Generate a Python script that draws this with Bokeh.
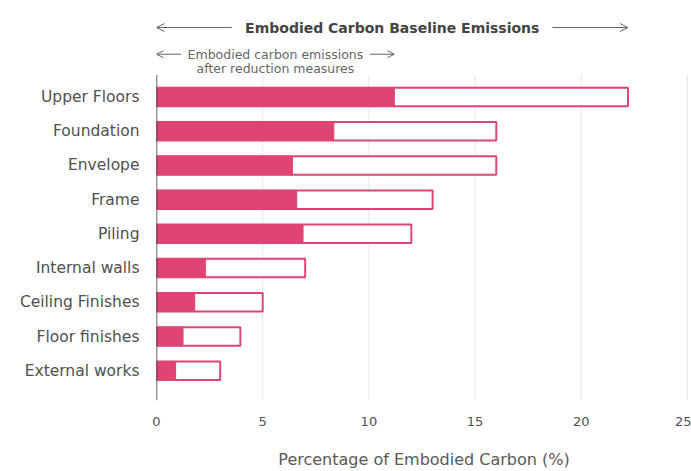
from bokeh.plotting import figure
from bokeh.models import ColumnDataSource, FixedTicker, Arrow, OpenHead, Range1d
from bokeh.core.properties import value
from bokeh.embed import file_html
from bokeh.resources import INLINE

# Building elements, top to bottom
categories = ["Upper Floors", "Foundation", "Envelope", "Frame", "Piling",
              "Internal walls", "Ceiling Finishes", "Floor finishes", "External works"]
# Baseline embodied carbon share (%)
baseline = [22.2, 16.0, 16.0, 13.0, 12.0, 7.0, 5.0, 3.95, 3.0]
# Embodied carbon share after reduction measures (%)
reduced = [11.2, 8.35, 6.4, 6.6, 6.9, 2.3, 1.8, 1.25, 0.9]
x_ticks = [0, 5, 10, 15, 20, 25]

PINK = "#E04472"
TEXT = "#505050"
FONT = "DejaVu Sans"

n = len(categories)
ypos = list(range(n - 1, -1, -1))

src = ColumnDataSource(dict(y=ypos, cat=categories, base=baseline, red=reduced))

y_lo, y_hi = -0.87, 10.82
p = figure(width=691, height=471, output_backend="svg", toolbar_location=None,
           x_range=Range1d(0, 25.19), y_range=Range1d(y_lo, y_hi),
           min_border_left=156, min_border_right=0, min_border_top=0,
           min_border_bottom=69)
p.outline_line_color = None
p.xgrid.visible = False
p.ygrid.visible = False

# faint vertical gridlines at the x ticks
grid_top = (n - 1) + 0.64
p.segment(x0=x_ticks[1:], x1=x_ticks[1:], y0=[y_lo] * (len(x_ticks) - 1),
          y1=[grid_top] * (len(x_ticks) - 1), line_color="#e6e6e6", line_width=1)

# baseline bars (outlined) and reduced bars (filled)
bh = 0.54
p.hbar(y="y", left=0, right="base", height=bh, source=src, fill_color="white",
       line_color=PINK, line_width=2)
p.hbar(y="y", left=0, right="red", height=bh, source=src, fill_color=PINK,
       line_color=PINK, line_width=1)

# vertical axis line
p.segment(x0=[0], x1=[0], y0=[y_lo], y1=[grid_top], line_color="#333333", line_width=1.5)

# x axis: labels only
p.xaxis.ticker = FixedTicker(ticks=x_ticks)
p.xaxis.axis_line_color = None
p.xaxis.major_tick_line_color = None
p.xaxis.minor_tick_line_color = None
p.xaxis.major_label_standoff = 10
p.xaxis.major_label_text_font = FONT
p.xaxis.major_label_text_font_size = "13px"
p.xaxis.major_label_text_color = TEXT
p.xaxis.axis_label = "Percentage of Embodied Carbon (%)"
p.xaxis.axis_label_text_font = FONT
p.xaxis.axis_label_text_font_size = "16px"
p.xaxis.axis_label_text_font_style = "normal"
p.xaxis.axis_label_text_color = "#5a5a5a"
p.xaxis.axis_label_standoff = 21

# y axis: category names
p.yaxis.ticker = FixedTicker(ticks=ypos)
p.yaxis.major_label_overrides = {y: c for y, c in zip(ypos, categories)}
p.yaxis.axis_line_color = None
p.yaxis.major_tick_line_color = None
p.yaxis.minor_tick_line_color = None
p.yaxis.major_label_standoff = 11
p.yaxis.major_label_text_font = FONT
p.yaxis.major_label_text_font_size = "15.5px"
p.yaxis.major_label_text_color = TEXT

# header: baseline span arrow
base_max = max(baseline)
red_max = max(reduced)
title_y = (n - 1) + 2.03
tcx = base_max / 2
p.text(x=[tcx], y=[title_y], text=["Embodied Carbon Baseline Emissions"],
       text_font=value(FONT), text_font_size="14px", text_font_style="bold",
       text_color="#444444", text_align="center", text_baseline="middle")
half = 7.55
for xs, xe in [(tcx - half, 0), (tcx + half, base_max)]:
    p.add_layout(Arrow(end=OpenHead(size=8, line_color="#666666", line_width=1),
                       x_start=xs, y_start=title_y, x_end=xe, y_end=title_y,
                       line_color="#666666", line_width=1))

# sub-header: reduced span arrow
sub_y1 = (n - 1) + 1.25
sub_y2 = (n - 1) + 0.83
scx = red_max / 2
p.text(x=[scx], y=[sub_y1], text=["Embodied carbon emissions"],
       text_font=value(FONT), text_font_size="12.5px", text_color="#666666",
       text_align="center", text_baseline="middle")
p.text(x=[scx], y=[sub_y2], text=["after reduction measures"],
       text_font=value(FONT), text_font_size="12.5px", text_color="#666666",
       text_align="center", text_baseline="middle")
shalf = 4.45
for xs, xe in [(scx - shalf, 0), (scx + shalf, red_max)]:
    p.add_layout(Arrow(end=OpenHead(size=7, line_color="#666666", line_width=1),
                       x_start=xs, y_start=sub_y1, x_end=xe, y_end=sub_y1,
                       line_color="#666666", line_width=1))

open("out.html", "w").write(file_html(p, INLINE))
